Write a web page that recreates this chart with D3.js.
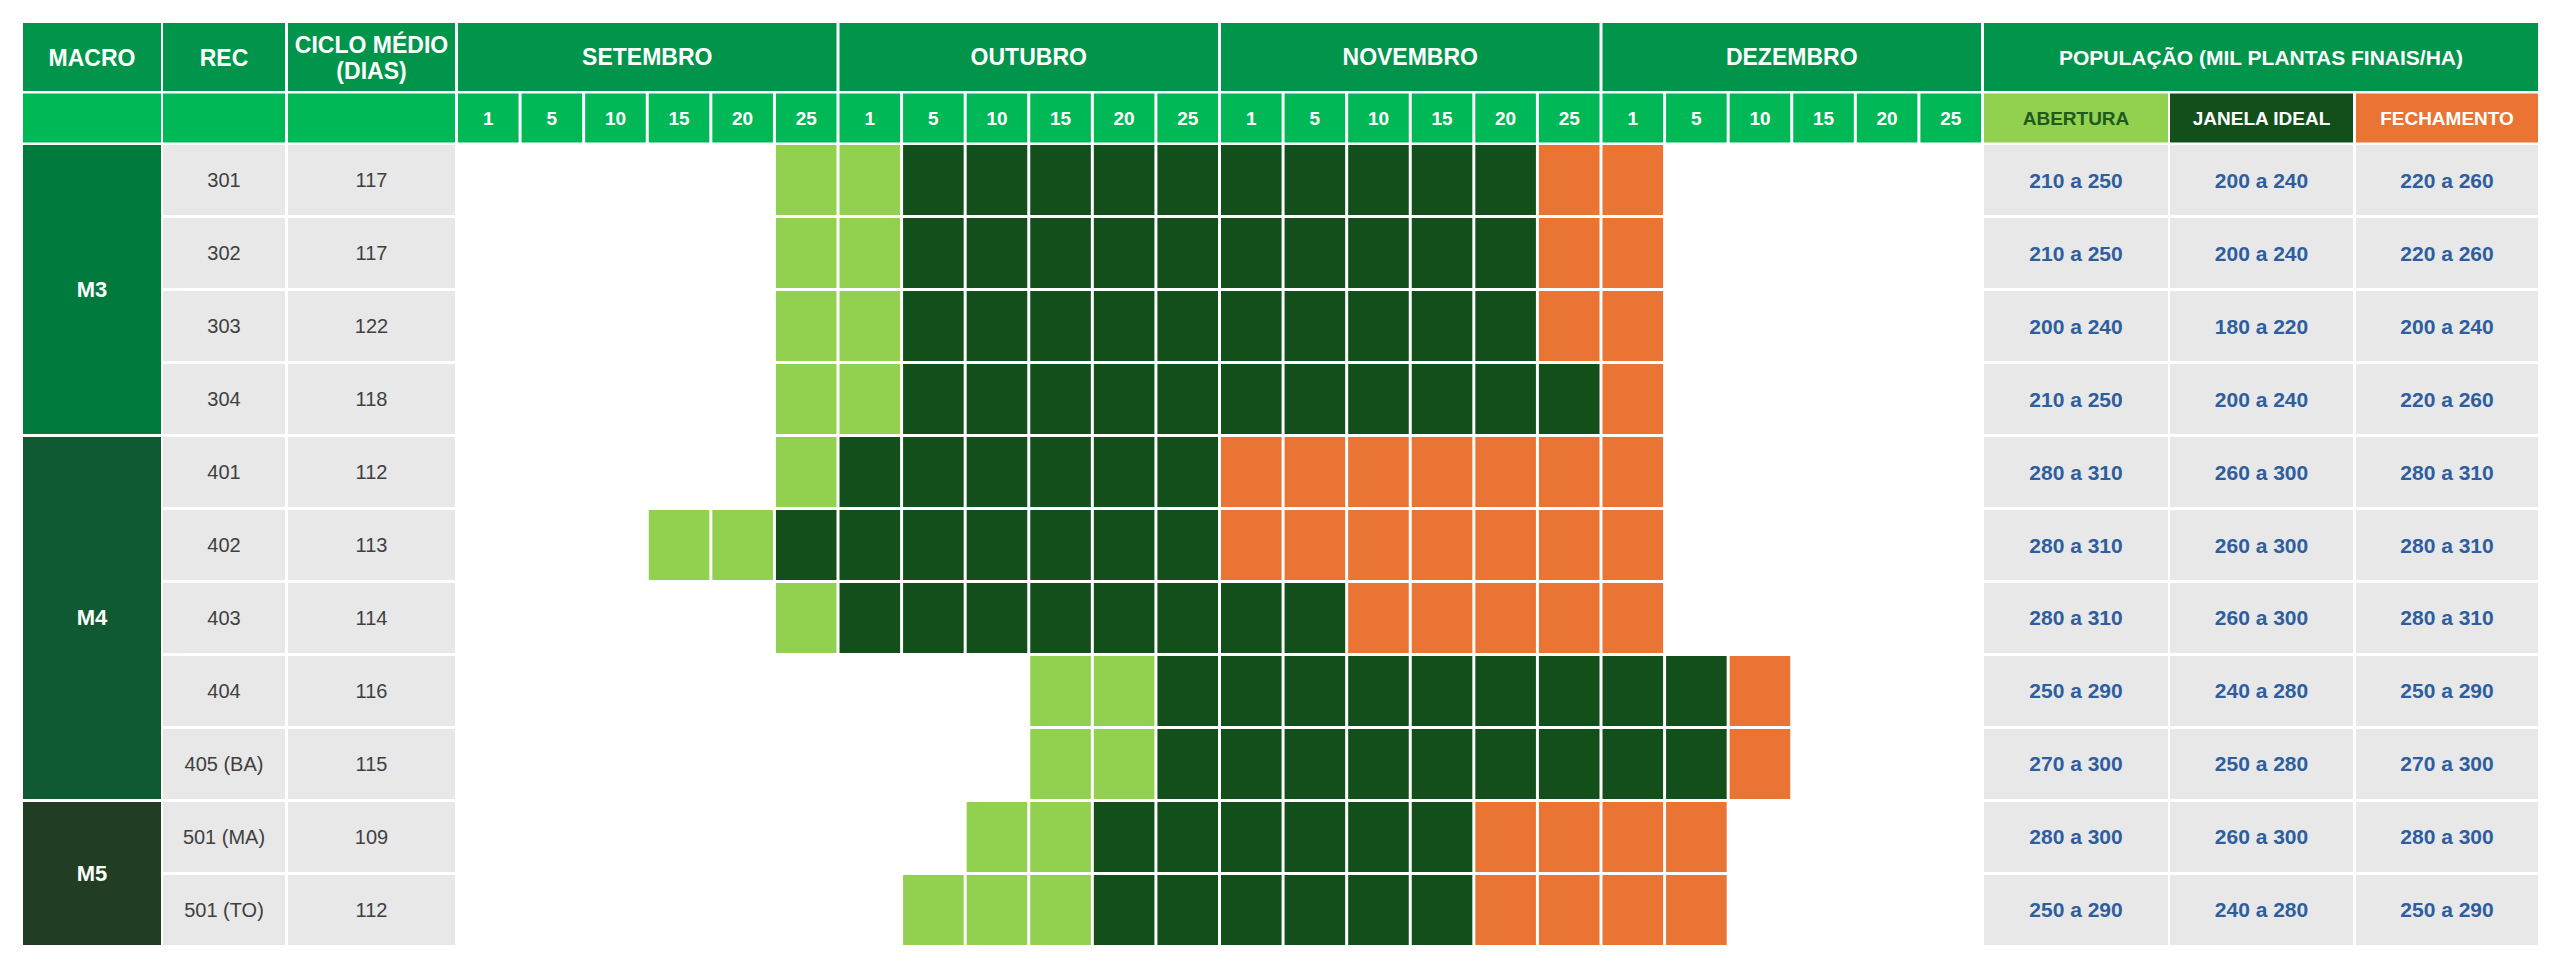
<!DOCTYPE html>
<html>
<head>
<meta charset="utf-8">
<script src="https://cdn.jsdelivr.net/npm/d3@7"></script>
<style>
html,body{margin:0;padding:0;background:#fff;}
svg{display:block;font-family:"Liberation Sans",Arial,sans-serif;}
</style>
</head>
<body>
<svg id="chart" width="2560" height="970"></svg>
<script>
// ---------- DATA ----------
const months = ["SETEMBRO", "OUTUBRO", "NOVEMBRO", "DEZEMBRO"];
const dayTicks = ["1", "5", "10", "15", "20", "25"];
const macroNames = ["M3", "M4", "M5"];
const macroRowCounts = [4, 5, 2];
const recs = ["301", "302", "303", "304", "401", "402", "403", "404", "405 (BA)", "501 (MA)", "501 (TO)"];
const ciclo = ["117", "117", "122", "118", "112", "113", "114", "116", "115", "109", "112"];
// indices into the 24 day slots (Sep 1 = 0 ... Dec 25 = 23)
const aberturaStart   = [5, 5, 5, 5, 5, 3, 5, 9, 9, 8, 7];
const janelaStart     = [7, 7, 7, 7, 6, 5, 6, 11, 11, 10, 10];
const fechamentoStart = [17, 17, 17, 18, 12, 12, 14, 20, 20, 16, 16];
const fechamentoEnd   = [18, 18, 18, 18, 18, 18, 18, 20, 20, 19, 19];
const popHeaders = ["ABERTURA", "JANELA IDEAL", "FECHAMENTO"];
const popAbertura   = ["210 a 250","210 a 250","200 a 240","210 a 250","280 a 310","280 a 310","280 a 310","250 a 290","270 a 300","280 a 300","250 a 290"];
const popJanela     = ["200 a 240","200 a 240","180 a 220","200 a 240","260 a 300","260 a 300","260 a 300","240 a 280","250 a 280","260 a 300","240 a 280"];
const popFechamento = ["220 a 260","220 a 260","200 a 240","220 a 260","280 a 310","280 a 310","280 a 310","250 a 290","270 a 300","280 a 300","250 a 290"];

// ---------- STYLE ----------
const C = {
  head: "#00954B", head2: "#00B956",
  macro: ["#007A3D", "#0F5A32", "#213D23"],
  gray: "#E8E8E8",
  ab: "#92D050", jan: "#124F1A", fec: "#EA7433",
  txt: "#404040", blue: "#2E5E9E", abTxt: "#1E5A1E"
};
const statusColor = {A: C.ab, J: C.jan, F: C.fec};

const svg = d3.select("#chart");

// ---------- SCALES ----------
const slots = d3.range(24);
const x = d3.scaleBand().domain(slots).range([458, 1981]).paddingInner(0.047);
const y = d3.scaleBand().domain(d3.range(recs.length)).range([145, 945]).paddingInner(0.041);
const leftCols = [[23, 161], [163, 285], [288, 455]];
const popCols = [[1984, 2168], [2170, 2353], [2356, 2538]];
const h1 = [23, 91], h2 = [93.5, 142.5];

function cell(x0, y0, w, h, fill) {
  svg.append("rect").attr("x", x0).attr("y", y0).attr("width", w).attr("height", h).attr("fill", fill);
}
function label(cx, cy, t, size, weight, color) {
  svg.append("text").attr("x", cx).attr("y", cy).attr("text-anchor", "middle")
    .attr("dominant-baseline", "central").attr("font-size", size)
    .attr("font-weight", weight).attr("fill", color).text(t);
}

// ---------- HEADER ROW 1 ----------
const leftHeads = ["MACRO", "REC", null];
leftCols.forEach((c, i) => {
  cell(c[0], h1[0], c[1] - c[0], h1[1] - h1[0], C.head);
  cell(c[0], h2[0], c[1] - c[0], h2[1] - h2[0], C.head2);
  const cx = (c[0] + c[1]) / 2;
  if (leftHeads[i]) label(cx, (h1[0] + h1[1]) / 2 + 1, leftHeads[i], 23, "bold", "#fff");
  else {
    label(cx, 45, "CICLO MÉDIO", 23, "bold", "#fff");
    label(cx, 71, "(DIAS)", 23, "bold", "#fff");
  }
});
months.forEach((m, mi) => {
  const x0 = x(mi * 6), x1 = x(mi * 6 + 5) + x.bandwidth();
  cell(x0, h1[0], x1 - x0, h1[1] - h1[0], C.head);
  label((x0 + x1) / 2, (h1[0] + h1[1]) / 2, m, 23, "bold", "#fff");
});
cell(popCols[0][0], h1[0], popCols[2][1] - popCols[0][0], h1[1] - h1[0], C.head);
label((popCols[0][0] + popCols[2][1]) / 2, (h1[0] + h1[1]) / 2, "POPULAÇÃO (MIL PLANTAS FINAIS/HA)", 21, "bold", "#fff");

// ---------- HEADER ROW 2 ----------
slots.forEach(i => {
  cell(x(i), h2[0], x.bandwidth(), h2[1] - h2[0], C.head2);
  label(x(i) + x.bandwidth() / 2, (h2[0] + h2[1]) / 2, dayTicks[i % 6], 19, "bold", "#fff");
});
const popHeadFill = [C.ab, C.jan, C.fec], popHeadTxt = [C.abTxt, "#fff", "#fff"];
popCols.forEach((c, i) => {
  cell(c[0], h2[0], c[1] - c[0], h2[1] - h2[0], popHeadFill[i]);
  label((c[0] + c[1]) / 2, (h2[0] + h2[1]) / 2, popHeaders[i], 19, "bold", popHeadTxt[i]);
});

// ---------- MACRO ----------
let r0 = 0;
macroNames.forEach((m, mi) => {
  const r1 = r0 + macroRowCounts[mi] - 1;
  const y0 = y(r0), y1 = y(r1) + y.bandwidth();
  const c = leftCols[0];
  cell(c[0], y0, c[1] - c[0], y1 - y0, C.macro[mi]);
  label((c[0] + c[1]) / 2, (y0 + y1) / 2, m, 22, "bold", "#fff");
  r0 = r1 + 1;
});

// ---------- ROWS ----------
recs.forEach((rec, r) => {
  const yy = y(r), hh = y.bandwidth(), cy = yy + hh / 2;
  [[leftCols[1], rec], [leftCols[2], ciclo[r]]].forEach(([c, t]) => {
    cell(c[0], yy, c[1] - c[0], hh, C.gray);
    label((c[0] + c[1]) / 2, cy, t, 20, "normal", C.txt);
  });
  // schedule cells
  const cells = [];
  for (let i = aberturaStart[r]; i <= fechamentoEnd[r]; i++) {
    const s = i < janelaStart[r] ? "A" : (i < fechamentoStart[r] ? "J" : "F");
    cells.push({i, s});
  }
  svg.append("g").selectAll("rect").data(cells).join("rect")
    .attr("x", d => x(d.i)).attr("y", yy)
    .attr("width", x.bandwidth()).attr("height", hh)
    .attr("fill", d => statusColor[d.s]);
  [popAbertura[r], popJanela[r], popFechamento[r]].forEach((t, i) => {
    const c = popCols[i];
    cell(c[0], yy, c[1] - c[0], hh, C.gray);
    label((c[0] + c[1]) / 2, cy, t, 21, "bold", C.blue);
  });
});
</script>
</body>
</html>
